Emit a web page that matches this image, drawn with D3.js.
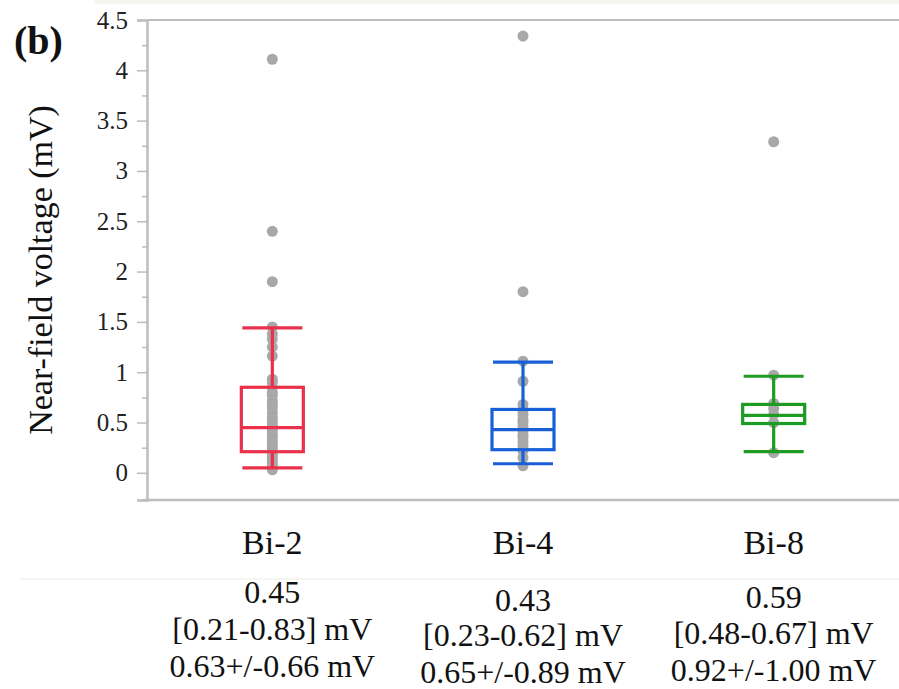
<!DOCTYPE html>
<html>
<head>
<meta charset="utf-8">
<script src="https://cdn.jsdelivr.net/npm/d3@7"></script>
<style>
  body { margin: 0; background: #fff; }
  svg text { font-family: "Liberation Serif", "Times New Roman", serif; }
</style>
</head>
<body>
<div id="chart"></div>
<script>
const groups = ["Bi-2", "Bi-4", "Bi-8"];
const colors = ["#e9314b", "#1860d8", "#1e9b22"];

// box statistics
const whiskerLow = [0.05, 0.09, 0.21];
const q1 = [0.21, 0.23, 0.49];
const median = [0.45, 0.43, 0.57];
const q3 = [0.85, 0.63, 0.68];
const whiskerHigh = [1.44, 1.10, 0.96];

const bi2Points = [4.11, 2.40, 1.90, 1.45, 1.38, 1.33, 1.25, 1.16, 0.93, 0.90, 0.85, 0.80,
  0.77, 0.72, 0.68, 0.65, 0.60, 0.55, 0.52, 0.48, 0.45, 0.42, 0.38, 0.35, 0.31, 0.28,
  0.25, 0.22, 0.19, 0.16, 0.13, 0.10, 0.07, 0.05, 0.03];
const bi4Points = [4.34, 1.80, 1.11, 0.91, 0.68, 0.62, 0.58, 0.53, 0.50, 0.46, 0.42,
  0.38, 0.35, 0.31, 0.27, 0.22, 0.15, 0.07];
const bi8Points = [3.29, 0.97, 0.69, 0.64, 0.58, 0.50, 0.20];
const points = [bi2Points, bi4Points, bi8Points];

const medianText = ["0.45", "0.43", "0.59"];
const iqrText = ["[0.21-0.83] mV", "[0.23-0.62] mV", "[0.48-0.67] mV"];
const meanText = ["0.63+/-0.66 mV", "0.65+/-0.89 mV", "0.92+/-1.00 mV"];
const textShift = [0, 8, 5];

const yTicks = [0, 0.5, 1, 1.5, 2, 2.5, 3, 3.5, 4, 4.5];
const yMinorTicks = [0.25, 0.75, 1.25, 1.75, 2.25, 2.75, 3.25, 3.75, 4.25];

const W = 899, H = 689;
const plot = { left: 147, right: 899, top: 20, bottom: 500 };
const serif = "'Liberation Serif', 'Times New Roman', serif";

const svg = d3.select("#chart").append("svg")
    .attr("width", W)
    .attr("height", H);

// faint bands from the scanned page
svg.append("rect").attr("x", 95).attr("y", 0).attr("width", W - 95).attr("height", 4).attr("fill", "#f6f6f0");
svg.append("rect").attr("x", 20).attr("y", 578).attr("width", W - 20).attr("height", 2).attr("fill", "#f6f6f0");

const x = d3.scaleBand()
    .domain(groups)
    .range([plot.left, plot.right]);

const y = d3.scaleLinear()
    .domain([-0.27, 4.5])
    .range([plot.bottom, plot.top]);

const axisColor = "#bdbdbd";

// frame
svg.append("line")
    .attr("x1", plot.left).attr("x2", plot.right)
    .attr("y1", plot.top).attr("y2", plot.top)
    .attr("stroke", axisColor).attr("stroke-width", 2);
svg.append("line")
    .attr("x1", 143).attr("x2", plot.right)
    .attr("y1", plot.bottom).attr("y2", plot.bottom)
    .attr("stroke", axisColor).attr("stroke-width", 2.5);

// y axis
const yAxis = svg.append("g")
    .attr("transform", `translate(${plot.left},0)`)
    .call(d3.axisLeft(y).tickValues(yTicks).tickSize(10).tickPadding(9).tickFormat(d3.format("")))
    .attr("font-family", serif)
    .attr("font-size", 25);
yAxis.select(".domain").attr("stroke", axisColor).attr("stroke-width", 2.5);
yAxis.selectAll(".tick line").attr("stroke", axisColor).attr("stroke-width", 1.5);
yAxis.selectAll(".tick text").attr("fill", "#222");

svg.append("g")
    .attr("transform", `translate(${plot.left},0)`)
    .call(d3.axisLeft(y).tickValues(yMinorTicks).tickSize(5).tickFormat(""))
    .call(g => g.select(".domain").remove())
    .selectAll(".tick line").attr("stroke", axisColor).attr("stroke-width", 1.5);

svg.append("text")
    .attr("transform", "translate(52,270) rotate(-90)")
    .attr("text-anchor", "middle")
    .attr("fill", "#111")
    .attr("font-family", serif)
    .attr("font-size", 34)
    .text("Near-field voltage (mV)");

svg.append("text")
    .attr("x", 14).attr("y", 54)
    .attr("fill", "#111")
    .attr("font-family", serif)
    .attr("font-size", 40)
    .attr("font-weight", "bold")
    .text("(b)");

// points and boxes
const boxW = 62, capW = 60;
groups.forEach((g, i) => {
    const cx = x(g) + x.bandwidth() / 2;

    svg.append("g").selectAll("circle")
        .data(points[i])
        .join("circle")
        .attr("cx", cx)
        .attr("cy", d => y(d))
        .attr("r", 5.5)
        .attr("fill", "#a8a8a8");

    const box = svg.append("g")
        .attr("stroke", colors[i])
        .attr("stroke-width", 3.2)
        .attr("fill", "none");

    box.append("line")
        .attr("x1", cx).attr("x2", cx)
        .attr("y1", y(whiskerLow[i])).attr("y2", y(q1[i]));
    box.append("line")
        .attr("x1", cx).attr("x2", cx)
        .attr("y1", y(q3[i])).attr("y2", y(whiskerHigh[i]));
    [whiskerLow[i], whiskerHigh[i]].forEach(v => {
        box.append("line")
            .attr("x1", cx - capW / 2).attr("x2", cx + capW / 2)
            .attr("y1", y(v)).attr("y2", y(v));
    });
    box.append("rect")
        .attr("x", cx - boxW / 2)
        .attr("y", y(q3[i]))
        .attr("width", boxW)
        .attr("height", y(q1[i]) - y(q3[i]));
    box.append("line")
        .attr("x1", cx - boxW / 2).attr("x2", cx + boxW / 2)
        .attr("y1", y(median[i])).attr("y2", y(median[i]));

    // labels under the plot
    const lab = svg.append("g")
        .attr("text-anchor", "middle")
        .attr("fill", "#111")
        .attr("font-family", serif)
        .attr("font-size", 32);
    lab.append("text").attr("x", cx).attr("y", 554).attr("font-size", 34).text(g);
    lab.append("text").attr("x", cx).attr("y", 603 + textShift[i]).text(medianText[i]);
    lab.append("text").attr("x", cx).attr("y", 640 + textShift[i] * 0.8).text(iqrText[i]);
    lab.append("text").attr("x", cx).attr("y", 677 + textShift[i] * 0.8).text(meanText[i]);
});
</script>
</body>
</html>
